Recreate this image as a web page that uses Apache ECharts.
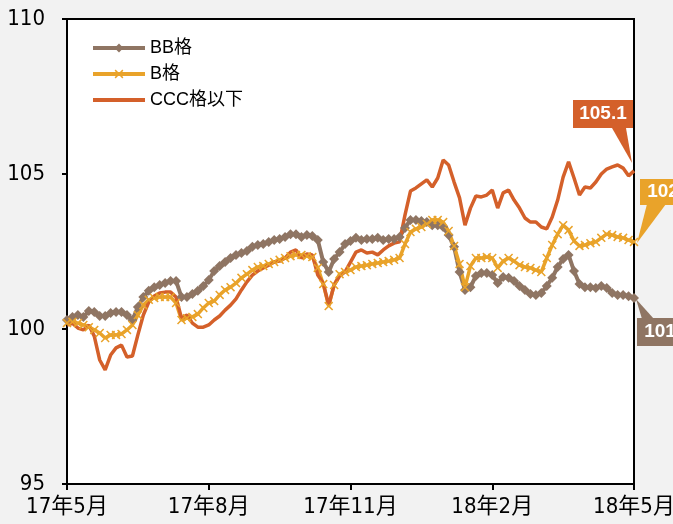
<!DOCTYPE html>
<html>
<head>
<meta charset="utf-8">
<script src="https://cdn.jsdelivr.net/npm/echarts@6/dist/echarts.min.js"></script>
<style>
  html, body { margin: 0; padding: 0; background: #f2f2f2; }
  #main { width: 673px; height: 524px; }
</style>
</head>
<body>
<div id="main"></div>
<script>
// semi-weekly observation dates (2017/5/1 - 2018/4/30)
var dates = [
  '17/5/1','17/5/4','17/5/8','17/5/11','17/5/15','17/5/18','17/5/22','17/5/25','17/5/29','17/6/1',
  '17/6/5','17/6/8','17/6/12','17/6/15','17/6/19','17/6/22','17/6/26','17/6/29','17/7/3','17/7/6',
  '17/7/10','17/7/13','17/7/17','17/7/20','17/7/24','17/7/27','17/7/31','17/8/3','17/8/7','17/8/10',
  '17/8/14','17/8/17','17/8/21','17/8/24','17/8/28','17/8/31','17/9/4','17/9/7','17/9/11','17/9/14',
  '17/9/18','17/9/21','17/9/25','17/9/28','17/10/2','17/10/5','17/10/9','17/10/12','17/10/16','17/10/19',
  '17/10/23','17/10/26','17/10/30','17/11/2','17/11/6','17/11/9','17/11/13','17/11/16','17/11/20','17/11/23',
  '17/11/27','17/11/30','17/12/4','17/12/7','17/12/11','17/12/14','17/12/18','17/12/21','17/12/25','17/12/28',
  '18/1/1','18/1/4','18/1/8','18/1/11','18/1/15','18/1/18','18/1/22','18/1/25','18/1/29','18/2/1',
  '18/2/5','18/2/8','18/2/12','18/2/15','18/2/19','18/2/22','18/2/26','18/3/1','18/3/5','18/3/8',
  '18/3/12','18/3/15','18/3/19','18/3/22','18/3/26','18/3/29','18/4/2','18/4/5','18/4/9','18/4/12',
  '18/4/16','18/4/19','18/4/23','18/4/26','18/4/30'
];
var tickLabels = ['17年5月', '17年8月', '17年11月', '18年2月', '18年5月'];
var seriesNames = ['BB格', 'B格', 'CCC格以下'];

var bb = [
  100.29,100.39,100.45,100.39,100.58,100.55,100.42,100.42,100.52,100.55,
  100.55,100.45,100.29,100.71,101.03,101.23,101.35,101.42,101.48,101.55,
  101.55,101.03,101.03,101.13,101.23,101.39,101.58,101.87,102.03,102.16,
  102.29,102.39,102.45,102.52,102.65,102.71,102.74,102.81,102.87,102.90,
  102.97,103.06,103.06,102.97,103.03,103.00,102.87,102.16,101.84,102.26,
  102.48,102.74,102.84,102.94,102.87,102.90,102.90,102.94,102.87,102.90,
  102.90,102.97,103.26,103.52,103.52,103.48,103.45,103.35,103.35,103.29,
  103.03,102.65,101.84,101.26,101.35,101.71,101.81,101.81,101.74,101.48,
  101.68,101.65,101.55,101.39,101.26,101.13,101.10,101.16,101.39,101.65,
  102.00,102.26,102.39,101.87,101.45,101.35,101.35,101.32,101.39,101.32,
  101.16,101.10,101.10,101.06,101.00
];
var b = [
  100.19,100.23,100.19,100.13,100.06,99.97,99.87,99.71,99.81,99.81,
  99.84,99.97,100.13,100.45,100.77,100.94,101.00,101.03,101.03,101.03,
  100.84,100.29,100.35,100.39,100.48,100.68,100.84,100.90,101.10,101.26,
  101.35,101.48,101.65,101.77,101.90,102.00,102.03,102.10,102.16,102.23,
  102.29,102.35,102.39,102.39,102.35,102.32,101.97,101.45,100.74,101.42,
  101.77,101.84,101.90,102.00,102.03,102.06,102.10,102.13,102.16,102.19,
  102.23,102.29,102.74,103.13,103.23,103.29,103.39,103.52,103.52,103.45,
  103.16,102.68,102.10,101.35,102.03,102.29,102.29,102.32,102.29,101.97,
  102.19,102.29,102.19,102.06,102.00,101.97,101.90,101.84,102.29,102.71,
  103.06,103.35,103.19,102.84,102.68,102.71,102.77,102.81,102.94,103.06,
  103.03,102.97,102.94,102.87,102.81
];
var ccc = [
  100.13,100.19,100.03,99.97,100.13,99.77,99.00,98.68,99.16,99.39,
  99.48,99.10,99.13,99.81,100.45,100.87,101.06,101.16,101.19,101.19,
  101.03,100.35,100.45,100.19,100.06,100.06,100.13,100.29,100.42,100.61,
  100.77,100.97,101.26,101.52,101.74,101.87,101.97,102.06,102.16,102.19,
  102.29,102.48,102.55,102.29,102.42,102.39,101.74,101.48,100.77,101.42,
  101.71,101.84,102.16,102.48,102.55,102.45,102.48,102.39,102.55,102.68,
  102.77,102.81,103.68,104.45,104.55,104.68,104.81,104.58,104.87,105.45,
  105.29,104.74,104.23,103.35,103.90,104.29,104.26,104.32,104.48,103.90,
  104.39,104.48,104.16,103.90,103.58,103.45,103.45,103.29,103.23,103.61,
  104.16,104.90,105.39,104.87,104.32,104.58,104.55,104.74,105.00,105.16,
  105.23,105.29,105.19,104.94,105.10
];

var colors = ['#8f7563', '#e9a32a', '#d4602a'];
var narrow = "'Liberation Sans Narrow', 'DejaVu Sans Condensed', 'Noto Sans CJK JP', sans-serif";
var xPath = 'path://M0,1.2L1.2,0L5,3.8L8.8,0L10,1.2L6.2,5L10,8.8L8.8,10L5,6.2L1.2,10L0,8.8L3.8,5Z';

var chart = echarts.init(document.getElementById('main'));
var option = {
  animation: false,
  backgroundColor: '#f2f2f2',
  color: colors,
  grid: {
    left: 67, right: 39, top: 19, bottom: 40,
    outerBoundsMode: 'none',
    show: true, backgroundColor: '#ffffff',
    borderColor: '#000', borderWidth: 2
  },
  legend: {
    orient: 'vertical',
    left: 86, top: 34,
    itemWidth: 52, itemHeight: 11, itemGap: 8,
    lineStyle: { width: 4 },
    textStyle: { fontSize: 18, color: '#000', fontFamily: "'Liberation Sans', 'Noto Sans CJK JP', sans-serif" },
    data: [
      seriesNames[0],
      seriesNames[1],
      { name: seriesNames[2], itemStyle: { opacity: 0 } }
    ]
  },
  xAxis: {
    type: 'category',
    data: dates,
    boundaryGap: false,
    axisLine: { lineStyle: { color: '#000', width: 2 } },
    axisTick: { show: true, interval: 25, length: 6, lineStyle: { color: '#000', width: 2 } },
    axisLabel: {
      interval: 25, margin: 12, fontSize: 22, color: '#000', fontFamily: narrow,
      formatter: function (v, i) { return tickLabels[Math.round(i / 26)]; }
    },
    splitLine: { show: false }
  },
  yAxis: {
    type: 'value',
    min: 95, max: 110, interval: 5,
    axisLine: { show: true, lineStyle: { color: '#000', width: 2 } },
    axisTick: { show: true, length: 5, lineStyle: { color: '#000', width: 2 } },
    axisLabel: { margin: 22, fontSize: 22, color: '#000', fontFamily: narrow },
    splitLine: { show: false }
  },
  series: [
    {
      name: seriesNames[0], type: 'line', data: bb,
      symbol: 'diamond', symbolSize: 10, showAllSymbol: true,
      lineStyle: { width: 4, color: colors[0] },
      itemStyle: { color: colors[0] }
    },
    {
      name: seriesNames[1], type: 'line', data: b,
      symbol: xPath, symbolSize: 9, showAllSymbol: true,
      lineStyle: { width: 3.5, color: colors[1] },
      itemStyle: { color: colors[1] }
    },
    {
      name: seriesNames[2], type: 'line', data: ccc,
      symbol: 'none',
      lineStyle: { width: 3.5, color: colors[2] },
      itemStyle: { color: colors[2] }
    }
  ]
};
chart.setOption(option);

// callout boxes at the last point of each series
var callouts = [
  { s: 2, box: [-61, -71, 60, 28], tri: [[-22, -43], [-8, -43], [-2, -8]] },
  { s: 1, box: [6, -63, 62, 26], tri: [[13, -38], [32, -38], [3, 1]] },
  { s: 0, box: [3, 20, 62, 28], tri: [[2, 1], [8, 21], [20, 21]] }
];
var dataSets = [bb, b, ccc];
var elements = [];
callouts.forEach(function (c) {
  var arr = dataSets[c.s];
  var last = arr.length - 1;
  var p = chart.convertToPixel({ seriesIndex: c.s }, [last, arr[last]]);
  var col = colors[c.s];
  elements.push({
    type: 'polygon', silent: true, z: 100,
    shape: { points: c.tri.map(function (t) { return [p[0] + t[0], p[1] + t[1]]; }) },
    style: { fill: col }
  });
  elements.push({
    type: 'rect', silent: true, z: 100,
    shape: { x: p[0] + c.box[0], y: p[1] + c.box[1], width: c.box[2], height: c.box[3] },
    style: { fill: col }
  });
  elements.push({
    type: 'text', silent: true, z: 101,
    x: p[0] + c.box[0] + c.box[2] / 2, y: p[1] + c.box[1] + c.box[3] / 2,
    style: {
      text: arr[last].toFixed(1), fill: '#fff', align: 'center', verticalAlign: 'middle',
      font: "bold 19px 'Liberation Sans', Arial, sans-serif"
    }
  });
});
chart.setOption({ graphic: elements });
</script>
</body>
</html>
